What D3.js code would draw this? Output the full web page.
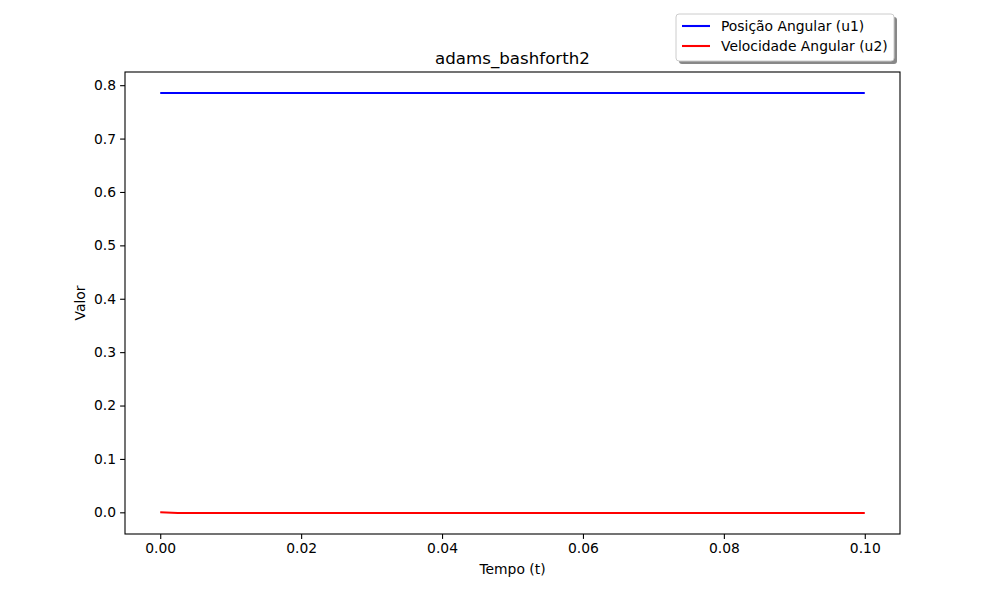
<!DOCTYPE html>
<html>
<head>
<meta charset="utf-8">
<script src="https://cdn.jsdelivr.net/npm/d3@7"></script>
<style>
  body { margin: 0; background: #fff; }
  text { font-family: "DejaVu Sans", sans-serif; }
</style>
</head>
<body>
<div id="chart"></div>
<script>
// data
var tempo = [0, 0.0025, 0.01, 0.02, 0.03, 0.04, 0.05, 0.06, 0.07, 0.08, 0.09, 0.1];
var u1 = [0.7854, 0.7854, 0.7854, 0.7854, 0.7854, 0.7854, 0.7854, 0.7854, 0.7854, 0.7854, 0.7854, 0.7854];
var u2 = [0, -0.0013, -0.0013, -0.0013, -0.0013, -0.0013, -0.0013, -0.0013, -0.0013, -0.0013, -0.0013, -0.0013];
var xTicks = [0, 0.02, 0.04, 0.06, 0.08, 0.1];
var yTicks = [0, 0.1, 0.2, 0.3, 0.4, 0.5, 0.6, 0.7, 0.8];
var seriesNames = ["Posição Angular (u1)", "Velocidade Angular (u2)"];
var seriesColors = ["#0000ff", "#ff0000"];

var W = 1000, H = 600;
var margin = {top: 72, bottom: 66, left: 125, right: 100};
var width = W - margin.left - margin.right;
var height = H - margin.top - margin.bottom;
var fs = "13.89px";

var svg = d3.select("#chart").append("svg")
    .attr("width", W)
    .attr("height", H);

var g = svg.append("g")
    .attr("transform", "translate(" + margin.left + "," + margin.top + ")");

var x = d3.scaleLinear().domain([-0.005, 0.105]).range([0, width]);
var y = d3.scaleLinear().domain([-0.0406, 0.8247]).range([height, 0]);

var xAxis = d3.axisBottom(x).tickValues(xTicks).tickFormat(d3.format(".2f")).tickSize(4.9).tickPadding(4);
var yAxis = d3.axisLeft(y).tickValues(yTicks).tickFormat(d3.format(".1f")).tickSize(4.9).tickPadding(4);

g.append("g")
    .attr("transform", "translate(0," + height + ")")
    .call(xAxis);
g.append("g")
    .call(yAxis);

g.selectAll(".domain").remove();
g.selectAll(".tick line").attr("stroke", "#000").attr("stroke-width", 1.1);
g.selectAll(".tick text").style("font-size", fs).style("font-family", "DejaVu Sans").attr("fill", "#000");

var series = [u1, u2];
var line = d3.line()
    .x(function(d, i) { return x(tempo[i]); })
    .y(function(d) { return y(d); });

series.forEach(function(s, k) {
    g.append("path")
        .datum(s)
        .attr("fill", "none")
        .attr("stroke", seriesColors[k])
        .attr("stroke-width", 2.08)
        .attr("d", line);
});

// frame
g.append("rect")
    .attr("width", width)
    .attr("height", height)
    .attr("fill", "none")
    .attr("stroke", "#000")
    .attr("stroke-width", 1.1);

// title and labels
svg.append("text")
    .attr("x", margin.left + width / 2)
    .attr("y", margin.top - 8)
    .attr("text-anchor", "middle")
    .style("font-size", "16.67px")
    .text("adams_bashforth2");

svg.append("text")
    .attr("x", margin.left + width / 2)
    .attr("y", 574)
    .attr("text-anchor", "middle")
    .style("font-size", fs)
    .text("Tempo (t)");

svg.append("text")
    .attr("transform", "translate(85," + (margin.top + height / 2) + ") rotate(-90)")
    .attr("text-anchor", "middle")
    .style("font-size", fs)
    .text("Valor");

// legend
var lx = 676, ly = 14, lw = 218, lh = 47;
svg.append("rect")
    .attr("x", lx + 3).attr("y", ly + 3)
    .attr("width", lw).attr("height", lh)
    .attr("rx", 3)
    .attr("fill", "#888");
svg.append("rect")
    .attr("x", lx).attr("y", ly)
    .attr("width", lw).attr("height", lh)
    .attr("rx", 3)
    .attr("fill", "#fff")
    .attr("stroke", "#ccc")
    .attr("stroke-width", 1);

var legend = svg.selectAll(".legend-item")
    .data(seriesNames)
    .enter().append("g")
    .attr("class", "legend-item")
    .attr("transform", function(d, i) { return "translate(" + (lx + 6) + "," + (ly + 12 + i * 20) + ")"; });

legend.append("line")
    .attr("x1", 0).attr("x2", 28)
    .attr("stroke", function(d, i) { return seriesColors[i]; })
    .attr("stroke-width", 2.08);

legend.append("text")
    .attr("x", 39)
    .attr("dy", "0.35em")
    .style("font-size", fs)
    .text(function(d) { return d; });
</script>
</body>
</html>
